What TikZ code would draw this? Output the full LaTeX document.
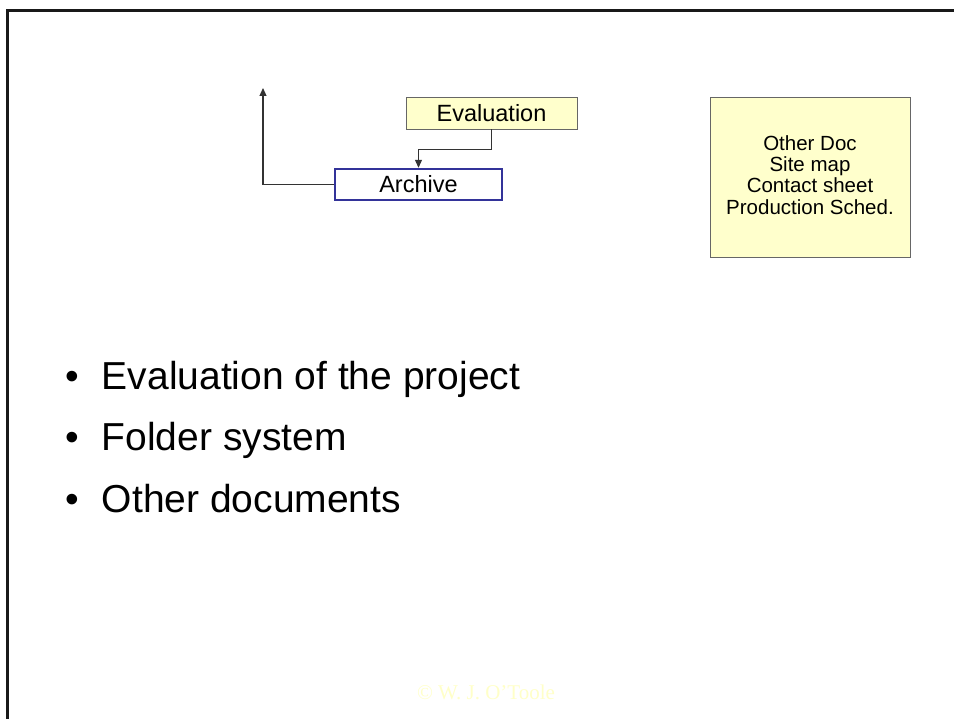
\documentclass[tikz,border=0pt]{standalone}
\usepackage{fontspec}
\setmainfont{Liberation Sans}
\newfontfamily\copyfont{Liberation Serif}
\usetikzlibrary{arrows.meta}
\definecolor{noteyellow}{HTML}{FFFFCC}
\definecolor{archblue}{HTML}{333399}
\definecolor{copyyellow}{HTML}{FFFFC8}
\begin{document}
\begin{tikzpicture}[x=1pt,y=-1pt,>={Triangle[length=8pt,width=7pt]},
  note/.style={draw=black!60,fill=noteyellow,line width=0.8pt,inner sep=0pt,align=center},
  arch/.style={draw=archblue,fill=white,line width=2.4pt,inner sep=0pt,minimum width=167pt,minimum height=31pt,font=\fontsize{23.5}{26}\selectfont},
  link/.style={draw=black!80,line width=1.1pt},
  item/.style={anchor=base west,inner sep=0pt,font=\fontsize{39}{46}\selectfont}]
\useasboundingbox (0,0) rectangle (954,719);
\draw[line width=2.6pt,black!90] (954,10.5)--(7.5,10.5)--(7.5,719);
\node[note,minimum width=171pt,minimum height=32pt,font=\fontsize{23.5}{26}\selectfont](eval) at (491.5,113){Evaluation};
\node[arch](archive) at (418.5,184.5){Archive};
\node[note,minimum width=200pt,minimum height=160pt,font=\fontsize{20.5}{21.3}\selectfont](other) at (810,177){Other Doc\\Site map\\Contact sheet\\Production Sched.\\[-17pt]};
\coordinate (up) at (263,88);
\draw[link,->](eval.south)--++(0,20)-|(archive.north);
\draw[link,->](archive.west)-|(up);
\node[item](b1) at (65,390){\textbullet\hspace{23pt}Evaluation of the project};
\node[item](b2) at (65,451){\textbullet\hspace{23pt}Folder system};
\node[item](b3) at (65,512){\textbullet\hspace{23pt}Other documents};
\node[font=\copyfont\fontsize{21}{24}\selectfont,text=copyyellow](copy) at (486,692){© W. J. O’Toole};
\end{tikzpicture}
\end{document}
